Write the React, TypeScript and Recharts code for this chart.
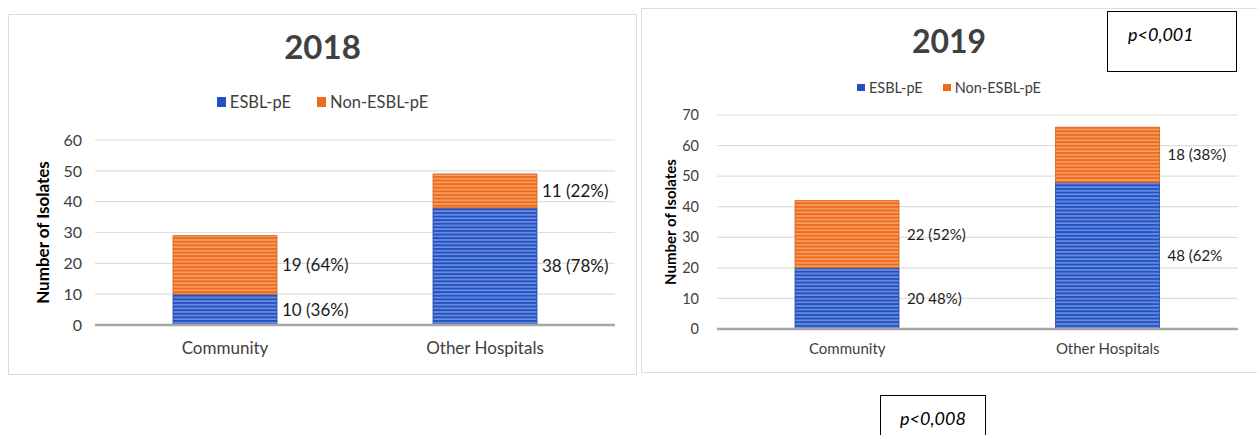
import React from "react";
import { BarChart, Bar, XAxis, YAxis, CartesianGrid, LabelList, Label } from "recharts";

const categories = ["Community", "Other Hospitals"];
const seriesNames = ["ESBL-pE", "Non-ESBL-pE"];

const esbl2018 = [10, 38];
const nonEsbl2018 = [19, 11];
const esblLabels2018 = ["10 (36%)", "38 (78%)"];
const nonEsblLabels2018 = ["19 (64%)", "11 (22%)"];
const ticks2018 = [0, 10, 20, 30, 40, 50, 60];

const esbl2019 = [20, 48];
const nonEsbl2019 = [22, 18];
const esblLabels2019 = ["20 48%)", "48 (62%"];
const nonEsblLabels2019 = ["22 (52%)", "18 (38%)"];
const ticks2019 = [0, 10, 20, 30, 40, 50, 60, 70];

const FONT = "Lato, 'Open Sans', sans-serif";
const BLUE = "#2451c2";
const ORANGE = "#ee6b1c";

const build = (esbl: number[], non: number[], el: string[], nl: string[]) =>
  categories.map((c, i) => ({ name: c, esbl: esbl[i], non: non[i], esblLabel: el[i], nonLabel: nl[i] }));

const data2018 = build(esbl2018, nonEsbl2018, esblLabels2018, nonEsblLabels2018);
const data2019 = build(esbl2019, nonEsbl2019, esblLabels2019, nonEsblLabels2019);

function Stripes({ id }: { id: string }) {
  return (
    <defs>
      <pattern id={`${id}-blue`} width="4" height="3.6" patternUnits="userSpaceOnUse">
        <rect width="4" height="3.6" fill={BLUE} />
        <rect y="2.2" width="4" height="1.1" fill="#8eaeee" />
      </pattern>
      <pattern id={`${id}-orange`} width="4" height="3.6" patternUnits="userSpaceOnUse">
        <rect width="4" height="3.6" fill={ORANGE} />
        <rect y="2.2" width="4" height="1.1" fill="#f9b888" />
      </pattern>
    </defs>
  );
}

function LegendRow({ fontSize, gap }: { fontSize: number; gap: number }) {
  const colors = [BLUE, ORANGE];
  return (
    <div style={{ display: "flex", justifyContent: "center", gap, fontFamily: FONT, fontSize, color: "#404040" }}>
      {seriesNames.map((n, i) => (
        <span key={n} style={{ display: "flex", alignItems: "center", gap: 4 }}>
          <span style={{ display: "inline-block", width: fontSize * 0.55, height: fontSize * 0.55, background: colors[i] }} />
          {n}
        </span>
      ))}
    </div>
  );
}

interface PanelProps {
  id: string;
  data: typeof data2018;
  ticks: number[];
  width: number;
  height: number;
  top: number;
  plotLeft: number;
  plotRight: number;
  xAxisHeight: number;
  fontSize: number;
  tickFontSize: number;
  labelOffset: number;
  yLabelOffset: number;
  tickMargin: number;
  xTickMargin: number;
}

function Panel(p: PanelProps) {
  const tickStyle = { fontSize: p.tickFontSize, fill: "#404040", fontFamily: FONT };
  return (
    <BarChart
      width={p.width}
      height={p.height}
      data={p.data}
      margin={{ top: p.top, right: p.width - p.plotRight, bottom: 0, left: 0 }}
    >
      <Stripes id={p.id} />
      <CartesianGrid vertical={false} stroke="#dedede" strokeWidth={1.2} />
      <XAxis
        dataKey="name"
        height={p.xAxisHeight}
        axisLine={{ stroke: "#a6a6a6", strokeWidth: 2.5 }}
        tickLine={false}
        tickSize={0}
        tickMargin={p.xTickMargin}
        tick={{ ...tickStyle, fontSize: p.fontSize }}
      />
      <YAxis
        width={p.plotLeft}
        domain={[0, p.ticks[p.ticks.length - 1]]}
        ticks={p.ticks}
        axisLine={false}
        tickLine={false}
        tickSize={0}
        tickMargin={p.tickMargin}
        tick={tickStyle}
      >
        <Label
          value="Number of Isolates"
          angle={-90}
          position="insideLeft"
          offset={p.yLabelOffset}
          style={{ textAnchor: "middle", fontWeight: 700, fontSize: p.fontSize, fill: "#000", fontFamily: FONT }}
        />
      </YAxis>
      <Bar dataKey="esbl" stackId="a" barSize={104} fill={`url(#${p.id}-blue)`} stroke="#1d44a8" strokeWidth={0.8} isAnimationActive={false}>
        <LabelList dataKey="esblLabel" position="right" offset={p.labelOffset} style={{ fontSize: p.fontSize, fill: "#1a1a1a", fontFamily: FONT }} />
      </Bar>
      <Bar dataKey="non" stackId="a" barSize={104} fill={`url(#${p.id}-orange)`} stroke="#d95e14" strokeWidth={0.8} isAnimationActive={false}>
        <LabelList dataKey="nonLabel" position="right" offset={p.labelOffset} style={{ fontSize: p.fontSize, fill: "#1a1a1a", fontFamily: FONT }} />
      </Bar>
    </BarChart>
  );
}

export default function App() {
  return (
    <div style={{ position: "relative", width: 1257, height: 435, background: "#fff", overflow: "hidden" }}>
      <style>{"body{margin:0}"}</style>

      {/* 2018 panel */}
      <div style={{ position: "absolute", left: 8, top: 14, width: 629, height: 361, border: "1px solid #dcdcdc", boxSizing: "border-box" }} />
      <div style={{ position: "absolute", left: 8, top: 26, width: 629, textAlign: "center", fontFamily: FONT, fontWeight: 700, fontSize: 33, color: "#404040" }}>
        2018
      </div>
      <div style={{ position: "absolute", left: 8, top: 92, width: 629 }}>
        <LegendRow fontSize={16.5} gap={26} />
      </div>
      <div style={{ position: "absolute", left: 8, top: 14 }}>
        <Panel
          id="p18"
          data={data2018}
          ticks={ticks2018}
          width={629}
          height={361}
          top={126}
          plotLeft={87}
          plotRight={607}
          xAxisHeight={50}
          fontSize={17}
          tickFontSize={16}
          labelOffset={5}
          yLabelOffset={35}
          tickMargin={13}
          xTickMargin={17}
        />
      </div>

      {/* 2019 panel */}
      <div style={{ position: "absolute", left: 641, top: 8, width: 620, height: 365, border: "1px solid #dcdcdc", boxSizing: "border-box" }} />
      <div style={{ position: "absolute", left: 641, top: 21, width: 616, textAlign: "center", fontFamily: FONT, fontWeight: 700, fontSize: 32, color: "#404040" }}>
        2019
      </div>
      <div style={{ position: "absolute", left: 641, top: 79, width: 616 }}>
        <LegendRow fontSize={14.5} gap={20} />
      </div>
      <div style={{ position: "absolute", left: 641, top: 8 }}>
        <Panel
          id="p19"
          data={data2019}
          ticks={ticks2019}
          width={616}
          height={365}
          top={107}
          plotLeft={76}
          plotRight={597}
          xAxisHeight={44}
          fontSize={15}
          tickFontSize={14.5}
          labelOffset={8}
          yLabelOffset={30}
          tickMargin={18}
          xTickMargin={14}
        />
      </div>

      <div style={{ position: "absolute", left: 1107, top: 11, width: 130, height: 61, border: "1px solid #000", boxSizing: "border-box", fontFamily: FONT, fontStyle: "italic", fontSize: 18, paddingLeft: 20, paddingTop: 11 }}>
        p&lt;0,001
      </div>
      <div style={{ position: "absolute", left: 880, top: 395, width: 106, height: 50, border: "1px solid #000", boxSizing: "border-box", fontFamily: FONT, fontStyle: "italic", fontSize: 18, textAlign: "center", paddingTop: 11 }}>
        p&lt;0,008
      </div>
    </div>
  );
}
